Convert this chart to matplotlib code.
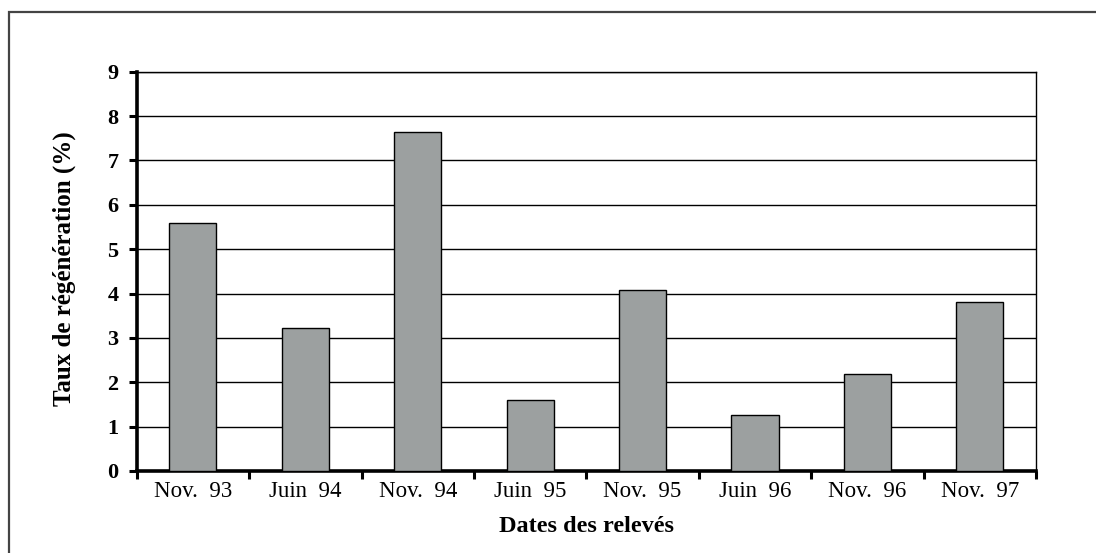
import matplotlib.pyplot as plt
from matplotlib.patches import Rectangle

dates = ["Nov.  93", "Juin  94", "Nov.  94", "Juin  95",
         "Nov.  95", "Juin  96", "Nov.  96", "Nov.  97"]
taux = [5.58, 3.22, 7.64, 1.6, 4.07, 1.26, 2.18, 3.81]
y_ticks = list(range(0, 10))

plt.rcParams['font.family'] = ['Liberation Serif', 'DejaVu Serif']

fig = plt.figure(figsize=(10.96, 5.53), dpi=100)

# outer frame (cut off on the right and bottom)
fig.patches.append(Rectangle((8.5 / 1096, -0.5), 2.0, 1 - 12 / 553 + 0.5,
                             transform=fig.transFigure, fill=False,
                             edgecolor="#444444", linewidth=1.6))

ax = fig.add_axes([0.1247, 0.1483, 0.8206, 0.722])

x = list(range(len(dates)))
ax.bar(x, taux, width=0.42, color="#9ca0a0", edgecolor="black",
       linewidth=1.0, zorder=3)

ax.set_xlim(-0.5, len(dates) - 0.5)
ax.set_ylim(0, 9)
ax.set_yticks(y_ticks)
ax.yaxis.grid(True, color="black", linewidth=1.0, zorder=0)
ax.set_axisbelow(True)

# category labels centred, tick marks between categories
ax.set_xticks(x)
ax.set_xticklabels(dates, fontsize=16.5)
ax.tick_params(axis="x", which="major", length=0, pad=7)
ax.set_xticks([i + 0.5 for i in range(-1, len(dates))], minor=True)
ax.tick_params(axis="x", which="minor", length=6, width=2.2, direction="out")
ax.tick_params(axis="y", length=6, width=2.2, direction="out", pad=7)
for lab in ax.get_yticklabels():
    lab.set_fontsize(16)
    lab.set_fontweight("bold")

ax.spines["left"].set_linewidth(2.6)
ax.spines["bottom"].set_linewidth(2.6)
ax.spines["top"].set_linewidth(1.0)
ax.spines["right"].set_linewidth(1.0)

ax.set_ylabel("Taux de régénération (%)", fontsize=18, fontweight="bold")
ax.yaxis.set_label_coords(-0.068, 0.507)
ax.set_xlabel("Dates des relevés", fontsize=17.5, fontweight="bold")
ax.xaxis.set_label_coords(0.4996, -0.112)

fig.savefig("out.png", dpi=100)
